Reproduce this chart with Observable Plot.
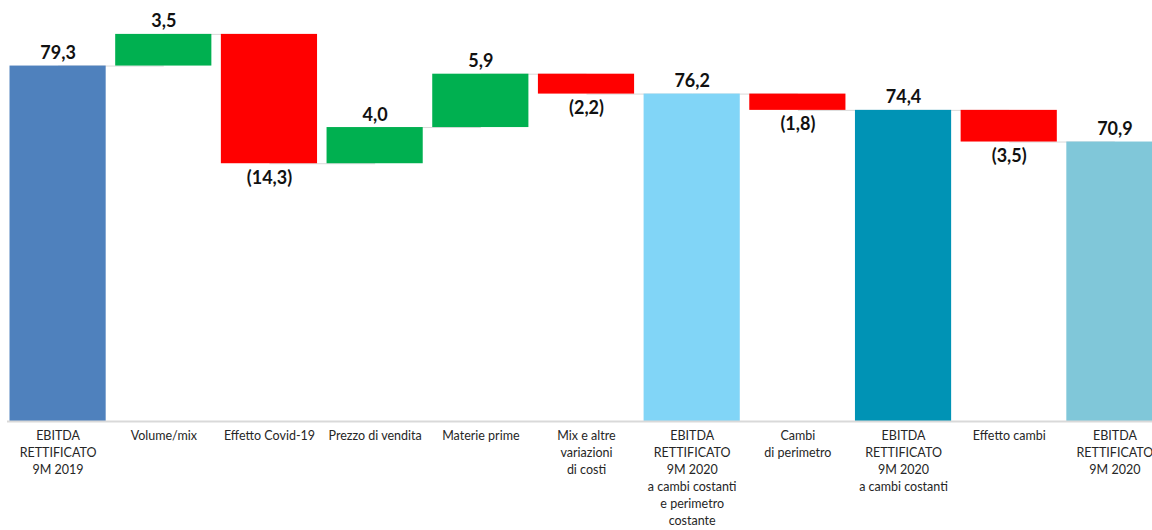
<!DOCTYPE html>
<html><head><meta charset="utf-8">
<script src="https://cdn.jsdelivr.net/npm/d3@7"></script>
<script src="https://cdn.jsdelivr.net/npm/@observablehq/plot@0.6"></script>
<style>
html,body{margin:0;padding:0;background:#fff;overflow:hidden;}
</style>
</head><body>
<div id="chart"></div>
<script>
const categories = [
  "EBITDA\nRETTIFICATO\n9M 2019",
  "Volume/mix",
  "Effetto Covid-19",
  "Prezzo di vendita",
  "Materie prime",
  "Mix e altre\nvariazioni\ndi costi",
  "EBITDA\nRETTIFICATO\n9M 2020\na cambi costanti\ne perimetro\ncostante",
  "Cambi\ndi perimetro",
  "EBITDA\nRETTIFICATO\n9M 2020\na cambi costanti",
  "Effetto cambi",
  "EBITDA\nRETTIFICATO\n9M 2020"
];
const values = [79.3, 3.5, -14.3, 4.0, 5.9, -2.2, 76.2, -1.8, 74.4, -3.5, 70.9];
const isTotal = [true, false, false, false, false, false, true, false, true, false, true];
const totalColors = ["#4F81BD", null, null, null, null, null, "#81D5F7", null, "#0093B5", null, "#80C7D9"];
const posColor = "#00B050";
const negColor = "#FF0000";
const baseValue = 40;

const rows = [];
let level = 0;
categories.forEach((c, i) => {
  const v = values[i];
  let y1, y2, color;
  if (isTotal[i]) {
    y1 = baseValue; y2 = v; level = v; color = totalColors[i];
  } else {
    y1 = level; y2 = level + v; level = y2; color = v >= 0 ? posColor : negColor;
  }
  const fmt = Math.abs(v).toFixed(1).replace(".", ",");
  rows.push({
    cat: c, y1, y2, color, end: level,
    label: v < 0 ? `(${fmt})` : fmt,
    labelY: v < 0 ? Math.min(y1, y2) : Math.max(y1, y2),
    neg: v < 0
  });
});
const links = rows.slice(0, -1).map((r, i) => ({a: r.cat, b: rows[i + 1].cat, y: r.end}));

const chart = Plot.plot({
  width: 1152,
  height: 530,
  marginTop: 14,
  marginBottom: 109,
  marginLeft: 0,
  marginRight: -20,
  style: {fontFamily: "Lato, sans-serif", background: "#fff"},
  x: {domain: categories, padding: 0.09, round: false, axis: null},
  y: {domain: [40, 85], axis: null},
  marks: [
    Plot.link(links, {x1: "a", x2: "b", y1: "y", y2: "y", stroke: "#d9d9d9", strokeWidth: 1}),
    Plot.barY(rows, {x: "cat", y1: "y1", y2: "y2", fill: "color"}),
    Plot.ruleY([baseValue], {stroke: "#d9d9d9", strokeWidth: 2, insetLeft: 7}),
    Plot.text(rows.filter(d => !d.neg), {x: "cat", y: "labelY", text: "label", dy: -7, lineAnchor: "bottom", fontSize: 18, fontWeight: "bold", fill: "#111"}),
    Plot.text(rows.filter(d => d.neg), {x: "cat", y: "labelY", text: "label", dy: 7, lineAnchor: "top", fontSize: 18, fontWeight: "bold", fill: "#111"}),
    Plot.axisX({tickSize: 0, tickPadding: 7, fontSize: 12.5, lineHeight: 1.35, color: "#262626", tickFormat: d => d})
  ]
});
document.getElementById("chart").appendChild(chart);
</script>
</body></html>
